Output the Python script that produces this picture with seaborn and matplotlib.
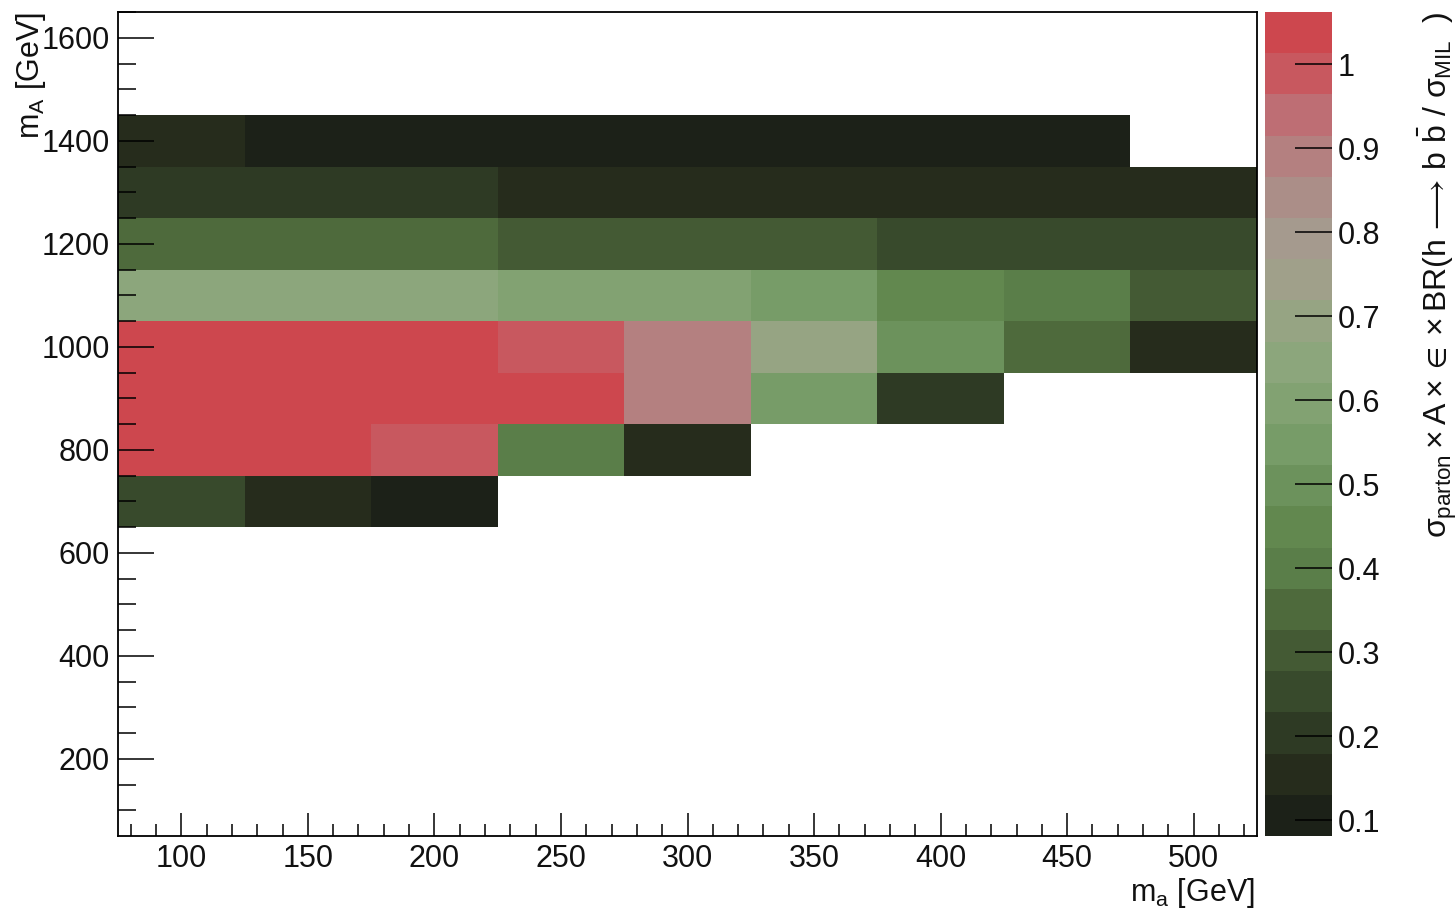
import numpy as np
import pandas as pd
import matplotlib
matplotlib.use("Agg")
import matplotlib.pyplot as plt
import seaborn as sns
from matplotlib.colors import ListedColormap, BoundaryNorm

# ---- data -------------------------------------------------------------
# pseudoscalar mass m_a bin centres [GeV]
ma_values = [100, 150, 200, 250, 300, 350, 400, 450, 500]
# heavy scalar mass m_A bin centres [GeV], top to bottom
mA_values = [1600, 1500, 1400, 1300, 1200, 1100, 1000, 900,
             800, 700, 600, 500, 400, 300, 200, 100]

nan = np.nan
ratio_mA1400 = [0.16, 0.11, 0.11, 0.11, 0.11, 0.11, 0.11, 0.11, nan]
ratio_mA1300 = [0.20, 0.20, 0.20, 0.16, 0.16, 0.16, 0.16, 0.16, 0.16]
ratio_mA1200 = [0.35, 0.35, 0.35, 0.30, 0.30, 0.30, 0.25, 0.25, 0.25]
ratio_mA1100 = [0.65, 0.65, 0.65, 0.60, 0.60, 0.55, 0.45, 0.40, 0.30]
ratio_mA1000 = [1.04, 1.04, 1.04, 0.99, 0.89, 0.69, 0.50, 0.35, 0.16]
ratio_mA900 = [1.04, 1.04, 1.04, 1.04, 0.89, 0.55, 0.20, nan, nan]
ratio_mA800 = [1.04, 1.04, 0.99, 0.40, 0.16, nan, nan, nan, nan]
ratio_mA700 = [0.25, 0.16, 0.11, nan, nan, nan, nan, nan, nan]

filled_rows = {1400: ratio_mA1400, 1300: ratio_mA1300, 1200: ratio_mA1200,
               1100: ratio_mA1100, 1000: ratio_mA1000, 900: ratio_mA900,
               800: ratio_mA800, 700: ratio_mA700}

# z axis: 20 equal contours between data minimum and maximum
z_min, z_max, n_levels = 0.081, 1.062, 20
level_colors = ["#1c2118", "#262c1c", "#2e3a24", "#384a2c", "#445a34",
                "#4e6a3c", "#5a7e49", "#62884f", "#6c925c", "#779c68",
                "#82a272", "#8ca67c", "#96a483", "#a0a08a", "#a59a8e",
                "#ab8e88", "#b48080", "#be6e74", "#c8585f", "#cd474e"]
cbar_ticks = [0.1, 0.2, 0.3, 0.4, 0.5, 0.6, 0.7, 0.8, 0.9, 1.0]
cbar_ticklabels = ["0.1", "0.2", "0.3", "0.4", "0.5", "0.6", "0.7",
                   "0.8", "0.9", "1"]

# ---- table ------------------------------------------------------------
grid = pd.DataFrame(
    [filled_rows.get(m, [nan] * len(ma_values)) for m in mA_values],
    index=mA_values, columns=ma_values)

# ---- style ------------------------------------------------------------
sns.set_theme(style="white")
plt.rcParams["font.family"] = ["Liberation Sans", "DejaVu Sans"]
plt.rcParams["mathtext.fontset"] = "custom"
plt.rcParams["mathtext.rm"] = "Liberation Sans"
plt.rcParams["mathtext.it"] = "Liberation Sans"
plt.rcParams["mathtext.sf"] = "Liberation Sans"
plt.rcParams["mathtext.bf"] = "Liberation Sans:bold"
plt.rcParams["mathtext.fallback"] = "stixsans"
plt.rcParams["axes.axisbelow"] = False

W, H = 1456, 913
fig = plt.figure(figsize=(W / 100, H / 100), dpi=100)
fig.patch.set_facecolor("white")


def frac_box(x0, y0, x1, y1):
    return [x0 / W, 1 - y1 / H, (x1 - x0) / W, (y1 - y0) / H]


ax = fig.add_axes(frac_box(118, 12, 1257, 836))
cax = fig.add_axes(frac_box(1265, 12, 1332, 836))

levels = np.linspace(z_min, z_max, n_levels + 1)
cmap = ListedColormap(level_colors)
norm = BoundaryNorm(levels, cmap.N)

sns.heatmap(grid, ax=ax, cmap=cmap, norm=norm, cbar_ax=cax,
            cbar_kws={"ticks": cbar_ticks},
            xticklabels=False, yticklabels=False, linewidths=0)

# ---- axes in GeV ------------------------------------------------------
ma_lo, ma_step = 75, 50
mA_hi, mA_step = 1650, 100


def x_pos(m):
    return (np.asarray(m, float) - ma_lo) / ma_step


def y_pos(m):
    return (mA_hi - np.asarray(m, float)) / mA_step


x_major = np.arange(100, 501, 50)
x_minor = [v for v in range(80, 525, 10) if v % 50 != 0]
y_major = np.arange(200, 1601, 200)
y_minor = [v for v in range(100, 1651, 50) if v % 200 != 0]

ax.set_xticks(x_pos(x_major), [str(v) for v in x_major])
ax.set_xticks(x_pos(x_minor), minor=True)
ax.set_yticks(y_pos(y_major), [str(v) for v in y_major])
ax.set_yticks(y_pos(y_minor), minor=True)
ax.set_xlim(0, len(ma_values))
ax.set_ylim(len(mA_values), 0)
ax.set_xlabel("")
ax.set_ylabel("")
ax.set_axisbelow(False)

for side in ["left", "right", "top", "bottom"]:
    ax.spines[side].set_visible(True)
    ax.spines[side].set_color("black")
    ax.spines[side].set_linewidth(1.3)
    ax.spines[side].set_zorder(5)

ax.tick_params(axis="both", which="both", direction="in", colors="black",
               width=1.1, labelsize=22, labelcolor="#111111")
ax.tick_params(axis="x", which="major", length=16.5, pad=6,
               bottom=True, top=False)
ax.tick_params(axis="x", which="minor", length=8.6, bottom=True, top=False)
ax.tick_params(axis="y", which="major", length=26, pad=6,
               left=True, right=False)
ax.tick_params(axis="y", which="minor", length=13, left=True, right=False)

# ---- colour bar -------------------------------------------------------
cb = ax.collections[0].colorbar
cb.set_ticks(cbar_ticks, labels=cbar_ticklabels)
cb.outline.set_visible(False)
cax.set_axisbelow(False)
cax.yaxis.set_ticks_position("right")
cax.tick_params(axis="y", which="major", direction="in", length=26.5,
                width=1.1, colors="black", labelsize=22,
                labelcolor="#111111", pad=4, right=True, left=False)
cax.tick_params(axis="y", which="minor", length=0)

# ---- titles -----------------------------------------------------------
fig.text(1255 / W, 1 - 893 / H, r"m$_{\mathrm{a}}$ [GeV]", ha="right",
         va="center", fontsize=22, color="#111111")
fig.text(31 / W, 1 - 12 / H, r"m$_{\mathrm{A}}$ [GeV]", ha="center",
         va="top", rotation=90, fontsize=22, color="#111111")
fig.text(1437 / W, 1 - 11 / H,
         r"$\sigma_{\mathrm{parton}}\times\mathrm{A}\times\in\times"
         r"\mathrm{BR(h}\,\longrightarrow\,\mathrm{b}\ \bar{\mathrm{b}}"
         r"\ /\ \sigma_{\mathrm{MIL}}\ \ )$",
         ha="center", va="top", rotation=90, fontsize=23, color="#111111")

fig.savefig("out.png", dpi=100, facecolor="white")
